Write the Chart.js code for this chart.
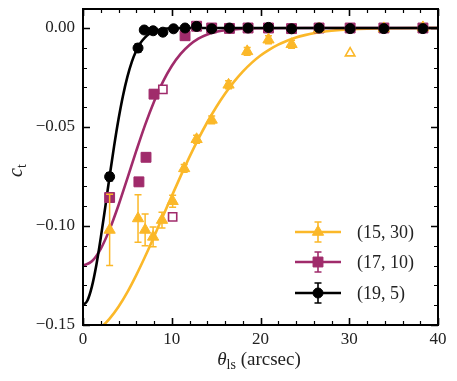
<!DOCTYPE html>
<html>
<head>
<meta charset="utf-8">
<script src="https://cdn.jsdelivr.net/npm/chart.js@4.4.1/dist/chart.umd.min.js"></script>
<style>
html, body { margin: 0; padding: 0; background: #fff; }
</style>
</head>
<body>
<canvas id="c" width="457" height="381"></canvas>
<script>
// as-ticks
var xTicks = [0, 10, 20, 30, 40];
var yTicks = [-0.15, -0.10, -0.05, 0.00];
var seriesNames = ['(15, 30)', '(17, 10)', '(19, 5)'];

// (15, 30): gele driehoeken
var yelX   = [3.0, 6.2, 7.0, 7.9, 8.9, 10.1, 11.4, 12.8, 14.5, 16.4, 18.5, 20.9, 23.5, 26.6, 33.9, 38.3];
var yelY   = [-0.102, -0.0962, -0.102, -0.1055, -0.097, -0.0875, -0.0709, -0.0562, -0.0464, -0.0287, -0.0118, -0.0059, -0.0082, -0.0005, -0.0002, 0.0003];
var yelErr = [0.018, 0.012, 0.008, 0.005, 0.004, 0.003, 0.002, 0.002, 0.002, 0.002, 0.002, 0.002, 0.002, 0.001, 0.001, 0.001];
var yelOpenX = [30.1];
var yelOpenY = [-0.0127];

// (17, 10): paarse vierkanten
var magX   = [3.0, 6.3, 7.1, 8.0, 11.5, 12.8, 14.5, 16.5, 18.6, 20.9, 23.5, 26.6, 30.1, 33.9, 38.3];
var magY   = [-0.0856, -0.0777, -0.0653, -0.0334, -0.0039, 0.0009, 0.0, -0.0002, 0.0, 0.0, -0.0003, 0.0, 0.0, 0.0, 0.0];
var magErr = [0.002, 0.002, 0.002, 0.002, 0.002, 0.001, 0.001, 0.001, 0.001, 0.001, 0.001, 0.001, 0.001, 0.001, 0.001];
var magOpenX = [9.0, 10.1];
var magOpenY = [-0.031, -0.0954];

// (19, 5): zwarte rondjes
var blkX   = [3.0, 6.2, 6.9, 7.9, 9.0, 10.2, 11.5, 12.8, 14.5, 16.5, 18.6, 20.9, 23.5, 26.6, 30.1, 33.9, 38.3];
var blkY   = [-0.0751, -0.0101, -0.0010, -0.0014, -0.0021, -0.0004, 0.0, 0.0008, -0.0004, 0.0, 0.0, 0.0003, -0.0004, 0.0, -0.0003, -0.0003, -0.0003];
var blkErr = [0.002, 0.002, 0.001, 0.001, 0.001, 0.001, 0.001, 0.001, 0.001, 0.001, 0.001, 0.001, 0.001, 0.001, 0.001, 0.001, 0.001];

// fit-curves
var yelCurveX = [0, 1, 2, 3, 4, 5, 6, 7, 8, 9, 10, 11, 12, 13, 14, 15, 16, 17, 18, 19, 20, 21, 22, 23, 24, 25, 26, 27, 28, 30, 32, 35, 40];
var yelCurveY = [-0.155, -0.1541, -0.1513, -0.1468, -0.1408, -0.1334, -0.1248, -0.1154, -0.1054, -0.0951, -0.0849, -0.0748, -0.0651, -0.0560, -0.0476, -0.0400, -0.0332, -0.0272, -0.0220, -0.0176, -0.0139, -0.0109, -0.0084, -0.0064, -0.0048, -0.0036, -0.0026, -0.0019, -0.0014, -0.0007, -0.0003, -0.0001, 0.0];
var magCurveX = [0, 1, 2, 3, 4, 5, 6, 7, 8, 9, 10, 11, 12, 13, 14, 15, 16, 18, 20, 25, 30, 40];
var magCurveY = [-0.120, -0.1178, -0.1115, -0.1017, -0.0895, -0.0759, -0.0621, -0.0489, -0.0372, -0.0272, -0.0192, -0.0131, -0.0086, -0.0054, -0.0033, -0.0019, -0.0011, -0.0003, -0.0001, 0.0, 0.0, 0.0];
var blkCurveX = [0, 0.5, 1, 1.5, 2, 2.5, 3, 3.5, 4, 4.5, 5, 5.5, 6, 6.5, 7, 7.5, 8, 9, 10, 12, 20, 30, 40];
var blkCurveY = [-0.140, -0.1376, -0.1306, -0.1198, -0.106, -0.0907, -0.0749, -0.0598, -0.0461, -0.0343, -0.0247, -0.0171, -0.0115, -0.0074, -0.0047, -0.0028, -0.0017, -0.0005, -0.0001, 0.0, 0.0, 0.0, 0.0];

var geel = '#fbb829';
var paars = '#a02b6b';
var zwart = '#000000';
var serif = '"Liberation Serif", "DejaVu Serif", serif';

function punten(xs, ys) {
    return xs.map(function (x, i) { return { x: x, y: ys[i] }; });
}

function curve(xs, ys, kleur) {
    return {
        data: punten(xs, ys), showLine: true, borderColor: kleur, borderWidth: 2.6,
        pointRadius: 0, cubicInterpolationMode: 'monotone', fill: false
    };
}

function markers(xs, ys, err, kleur, stijl, r, open) {
    return {
        data: punten(xs, ys), err: err, showLine: false, borderColor: kleur,
        pointStyle: stijl, pointRadius: r, pointHoverRadius: r,
        pointBackgroundColor: open ? '#fff' : kleur, pointBorderColor: kleur,
        pointBorderWidth: open ? 1.6 : 1
    };
}

// foutbalken onder de markers tekenen
var foutbalken = {
    id: 'foutbalken',
    beforeDatasetDraw: function (chart, args) {
        var ds = chart.data.datasets[args.index];
        if (!ds.err) return;
        var ctx = chart.ctx, sx = chart.scales.x, sy = chart.scales.y;
        ctx.save();
        ctx.strokeStyle = ds.borderColor;
        ctx.lineWidth = 1.5;
        ds.data.forEach(function (p, i) {
            var e = ds.err[i];
            var px = sx.getPixelForValue(p.x);
            var y1 = sy.getPixelForValue(p.y - e), y2 = sy.getPixelForValue(p.y + e);
            ctx.beginPath();
            ctx.moveTo(px, y1); ctx.lineTo(px, y2);
            ctx.moveTo(px - 3.5, y1); ctx.lineTo(px + 3.5, y1);
            ctx.moveTo(px - 3.5, y2); ctx.lineTo(px + 3.5, y2);
            ctx.stroke();
        });
        ctx.restore();
    }
};

// kader, ticks naar binnen, legenda en as-titels
var kader = {
    id: 'kader',
    afterDraw: function (chart) {
        var ctx = chart.ctx, a = chart.chartArea, sx = chart.scales.x, sy = chart.scales.y;
        ctx.save();
        ctx.strokeStyle = '#000';

        // ticks
        var i, p, v;
        for (v = 0; v <= 40.001; v += 2) {
            var major = Math.abs(v % 10) < 0.001;
            var len = major ? 7 : 4;
            p = Math.round(sx.getPixelForValue(v)) + 0.5;
            ctx.lineWidth = major ? 1.6 : 1.2;
            ctx.beginPath();
            ctx.moveTo(p, a.bottom); ctx.lineTo(p, a.bottom - len);
            ctx.moveTo(p, a.top); ctx.lineTo(p, a.top + len);
            ctx.stroke();
        }
        for (i = -15; i <= 0; i++) {
            v = i / 100;
            var maj = (i % 5) === 0;
            var l = maj ? 7 : 4;
            p = Math.round(sy.getPixelForValue(v)) + 0.5;
            ctx.lineWidth = maj ? 1.6 : 1.2;
            ctx.beginPath();
            ctx.moveTo(a.left, p); ctx.lineTo(a.left + l, p);
            ctx.moveTo(a.right, p); ctx.lineTo(a.right - l, p);
            ctx.stroke();
        }

        // kader
        ctx.lineWidth = 2;
        ctx.strokeRect(a.left, a.top, a.right - a.left, a.bottom - a.top);

        // legenda
        var kleuren = [geel, paars, zwart];
        var stijlen = ['triangle', 'rect', 'circle'];
        var radii = [6.5, 7, 5];
        var rijen = [232, 262, 293];
        for (i = 0; i < 3; i++) {
            var y = rijen[i];
            ctx.strokeStyle = kleuren[i];
            ctx.fillStyle = kleuren[i];
            ctx.lineWidth = 2.6;
            ctx.beginPath(); ctx.moveTo(295, y); ctx.lineTo(341, y); ctx.stroke();
            ctx.lineWidth = 1.6;
            ctx.beginPath();
            ctx.moveTo(318, y - 10); ctx.lineTo(318, y + 10);
            ctx.moveTo(314.5, y - 10); ctx.lineTo(321.5, y - 10);
            ctx.moveTo(314.5, y + 10); ctx.lineTo(321.5, y + 10);
            ctx.stroke();
            ctx.lineWidth = 1;
            Chart.helpers.drawPoint(ctx, { pointStyle: stijlen[i], radius: radii[i], rotation: 0, borderWidth: 1 }, 318, y);
            ctx.fillStyle = '#222';
            ctx.font = '18px ' + serif;
            ctx.textAlign = 'left';
            ctx.textBaseline = 'middle';
            ctx.fillText(seriesNames[i], 357, y + 1);
        }

        // x-as titel: theta_ls (arcsec)
        ctx.fillStyle = '#222';
        ctx.textBaseline = 'alphabetic';
        ctx.textAlign = 'left';
        ctx.font = 'italic 19px ' + serif;
        var w1 = ctx.measureText('\u03b8').width;
        ctx.font = '14px ' + serif;
        var w2 = ctx.measureText('ls').width;
        ctx.font = '19px ' + serif;
        var w3 = ctx.measureText(' (arcsec)').width;
        var x0 = 259 - (w1 + w2 + w3) / 2, yb = 365;
        ctx.font = 'italic 19px ' + serif;
        ctx.fillText('\u03b8', x0, yb);
        ctx.font = '14px ' + serif;
        ctx.fillText('ls', x0 + w1, yb + 4);
        ctx.font = '19px ' + serif;
        ctx.fillText(' (arcsec)', x0 + w1 + w2, yb);

        // y-as titel: c_t
        ctx.translate(22, 168);
        ctx.rotate(-Math.PI / 2);
        ctx.font = 'italic 20px ' + serif;
        var wc = ctx.measureText('c').width;
        ctx.fillText('c', -wc, 0);
        ctx.font = '14px ' + serif;
        ctx.fillText('t', 0, 4);
        ctx.restore();
    }
};

new Chart(document.getElementById('c'), {
    type: 'scatter',
    data: {
        datasets: [
            markers(blkX, blkY, blkErr, zwart, 'circle', 5, false),
            markers(yelX, yelY, yelErr, geel, 'triangle', 6.5, false),
            markers(yelOpenX, yelOpenY, null, geel, 'triangle', 5.5, true),
            markers(magX, magY, magErr, paars, 'rect', 7, false),
            markers(magOpenX, magOpenY, null, paars, 'rect', 5.8, true),
            curve(blkCurveX, blkCurveY, zwart),
            curve(magCurveX, magCurveY, paars),
            curve(yelCurveX, yelCurveY, geel)
        ]
    },
    options: {
        responsive: false,
        animation: false,
        devicePixelRatio: 1,
        layout: { padding: { left: 0, right: 19, top: 9, bottom: 0 } },
        plugins: { legend: { display: false }, tooltip: { enabled: false } },
        scales: {
            x: {
                type: 'linear', min: 0, max: 40,
                afterFit: function (s) { s.height = 56; s.paddingLeft = 0; s.paddingRight = 0; },
                afterBuildTicks: function (s) { s.ticks = xTicks.map(function (v) { return { value: v }; }); },
                grid: { display: false, drawTicks: false },
                border: { display: false },
                ticks: {
                    padding: 4, maxRotation: 0, color: '#222',
                    font: { family: serif, size: 17 },
                    callback: function (v) { return String(v); }
                }
            },
            y: {
                type: 'linear', min: -0.15, max: 0.0096,
                afterFit: function (s) { s.width = 83; s.paddingTop = 0; s.paddingBottom = 0; },
                afterBuildTicks: function (s) { s.ticks = yTicks.map(function (v) { return { value: v }; }); },
                grid: { display: false, drawTicks: false },
                border: { display: false },
                ticks: {
                    padding: 8, color: '#222',
                    font: { family: serif, size: 17 },
                    callback: function (v) {
                        return v < 0 ? '\u2212' + Math.abs(v).toFixed(2) : '0.00';
                    }
                }
            }
        }
    },
    plugins: [foutbalken, kader]
});
</script>
</body>
</html>
